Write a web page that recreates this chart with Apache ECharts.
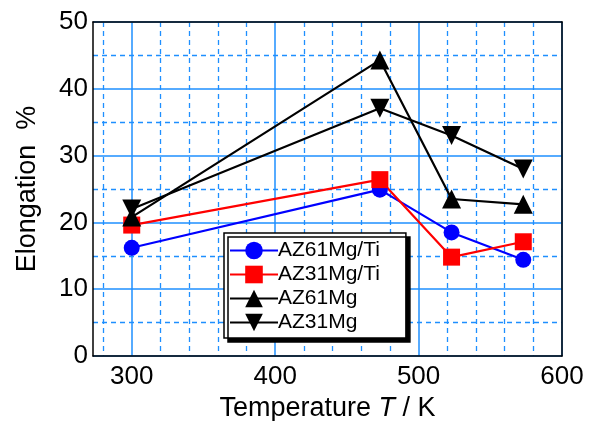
<!DOCTYPE html>
<html>
<head>
<meta charset="utf-8">
<script src="https://cdn.jsdelivr.net/npm/echarts@6/dist/echarts.min.js"></script>
<style>
  html, body { margin: 0; padding: 0; background: #fff; }
  #chart { width: 595px; height: 421px; }
</style>
</head>
<body>
<div id="chart"></div>
<script>
// temperatures in K
var temps = [300, 473, 523, 573];
var seriesNames = ['AZ61Mg/Ti', 'AZ31Mg/Ti', 'AZ61Mg', 'AZ31Mg'];
var az61mgTi = [16.2, 24.9, 18.5, 14.4];
var az31mgTi = [19.6, 26.4, 14.8, 17.1];
var az61mg = [20.8, 44.3, 23.5, 22.7];
var az31mg = [22.0, 37.1, 33.0, 28.0];
var xMajorTicks = [300, 400, 500, 600];
var xMinorTicks = [280, 320, 340, 360, 380, 420, 440, 460, 480, 520, 540, 560, 580];

var font = 'Liberation Sans, Arial, sans-serif';
var gridBlue = '#1e8fff';
var frame = { show: true, onZero: false, lineStyle: { color: '#000', width: 1.5 } };

function pairs(vals) {
  return temps.map(function (t, i) { return [t, vals[i]]; });
}

function makeSeries(name, vals, color, symbol, size, rotate) {
  return {
    name: name,
    type: 'line',
    data: pairs(vals),
    symbol: symbol,
    symbolSize: size,
    symbolRotate: rotate || 0,
    showAllSymbol: true,
    lineStyle: { color: color, width: 2.2 },
    itemStyle: { color: color },
    emphasis: { disabled: true },
    z: 5
  };
}

var chart = echarts.init(document.getElementById('chart'));
var option = {
  backgroundColor: '#fff',
  animation: false,
  grid: { left: 93, right: 33, top: 22, bottom: 65, outerBoundsMode: 'none' },
  legend: {
    left: 224, top: 233,
    orient: 'vertical',
    data: seriesNames,
    itemWidth: 48, itemHeight: 22, itemGap: 1,
    padding: [6, 26, 4, 5],
    backgroundColor: '#fff',
    borderColor: '#000', borderWidth: 1.5, borderRadius: 0,
    shadowColor: '#000', shadowBlur: 0, shadowOffsetX: 4, shadowOffsetY: 4,
    textStyle: { fontFamily: font, fontSize: 21, lineHeight: 23, color: '#000', padding: [0, 0, 0, -5] },
    selectedMode: false
  },
  xAxis: [{
    type: 'value', min: 273, max: 600,
    name: 'Temperature {i|T} / K',
    nameLocation: 'middle', nameGap: 37,
    nameTextStyle: {
      fontFamily: font, fontSize: 27, color: '#000',
      rich: { i: { fontFamily: font, fontSize: 27, fontStyle: 'italic', color: '#000' } }
    },
    axisLine: frame,
    axisTick: { show: false, customValues: xMajorTicks },
    axisLabel: { customValues: xMajorTicks, fontFamily: font, fontSize: 26, color: '#000', margin: 8 },
    splitLine: { show: true, lineStyle: { color: gridBlue, width: 1.5 } }
  }, {
    type: 'value', min: 273, max: 600, position: 'top',
    axisLine: frame,
    axisTick: { show: false, customValues: xMinorTicks },
    axisLabel: { show: false, customValues: xMinorTicks },
    splitLine: { show: true, lineStyle: { color: gridBlue, width: 1.3, type: [5, 4] } }
  }],
  yAxis: [{
    type: 'value', min: 0, max: 50, interval: 10,
    name: 'Elongation  %',
    nameLocation: 'middle', nameGap: 52,
    nameTextStyle: { fontFamily: font, fontSize: 27, color: '#000' },
    axisLine: frame,
    axisTick: { show: false },
    axisLabel: { fontFamily: font, fontSize: 26, color: '#000', margin: 5 },
    splitLine: { show: true, lineStyle: { color: gridBlue, width: 1.5 } },
    minorTick: { show: false, splitNumber: 2 },
    minorSplitLine: { show: true, lineStyle: { color: gridBlue, width: 1.3, type: [5, 4] } }
  }, {
    type: 'value', min: 0, max: 50, interval: 10, position: 'right',
    axisLine: frame,
    axisTick: { show: false },
    axisLabel: { show: false },
    splitLine: { show: false }
  }],
  series: [
    makeSeries(seriesNames[0], az61mgTi, '#0000ff', 'circle', 16),
    makeSeries(seriesNames[1], az31mgTi, '#ff0000', 'rect', 17),
    makeSeries(seriesNames[2], az61mg, '#000000', 'triangle', 19),
    makeSeries(seriesNames[3], az31mg, '#000000', 'triangle', 19, 180)
  ]
};
chart.setOption(option);
</script>
</body>
</html>
